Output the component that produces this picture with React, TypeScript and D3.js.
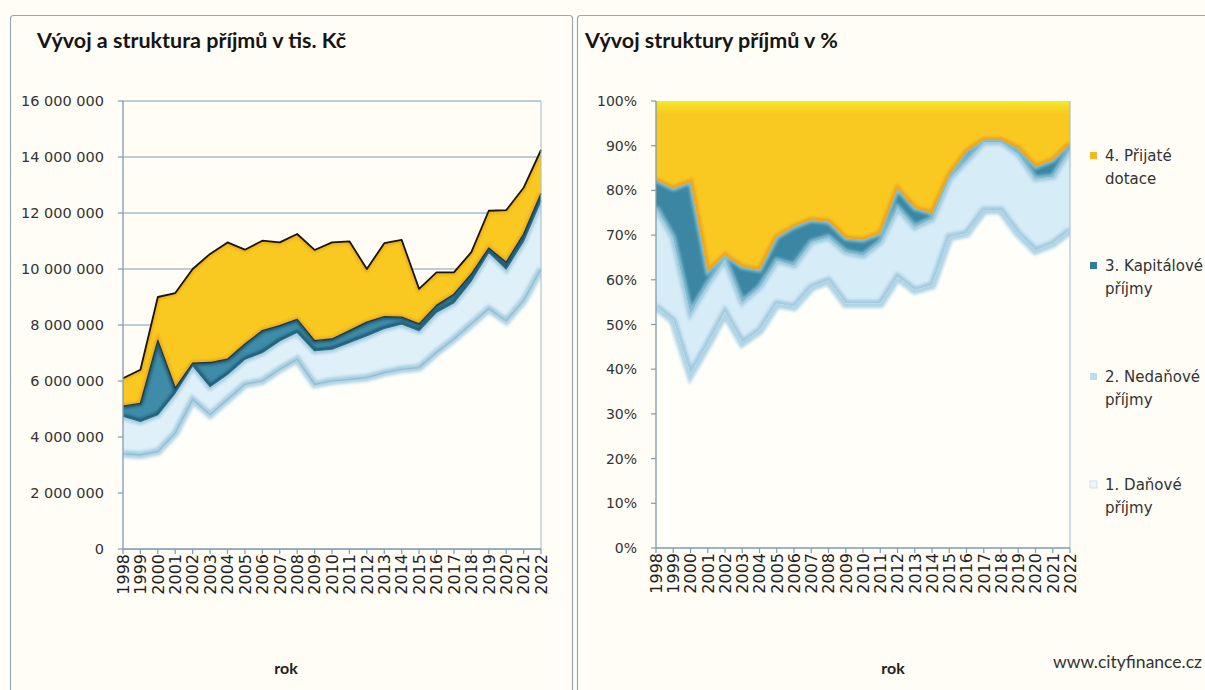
import React from 'react';
import * as d3 from 'd3';

const years = ['1998','1999','2000','2001','2002','2003','2004','2005','2006','2007','2008','2009','2010','2011','2012','2013','2014','2015','2016','2017','2018','2019','2020','2021','2022'];

// Left chart: values in tis. Kč
const danove = [3400000,3360000,3480000,4140000,5340000,4800000,5340000,5880000,6000000,6420000,6780000,5880000,6000000,6060000,6120000,6300000,6420000,6480000,7020000,7500000,8040000,8580000,8150000,8870000,10000000];
const nedanove = [1340000,1200000,1320000,1440000,1210000,1000000,900000,900000,1020000,1020000,960000,1200000,1140000,1320000,1500000,1580000,1620000,1320000,1440000,1300000,1540000,2020000,1850000,2130000,2450000];
const kapitalove = [360000,640000,2650000,170000,90000,860000,540000,540000,780000,540000,460000,360000,360000,420000,480000,420000,240000,240000,240000,300000,240000,150000,240000,250000,250000];
const dotace = [1000000,1200000,1550000,3390000,3360000,3880000,4170000,3370000,3210000,2970000,3050000,3240000,3450000,3190000,1900000,2620000,2760000,1250000,1180000,780000,780000,1330000,1860000,1650000,1550000];

// Right chart: shares in %
const danovePct = [54.0,51.0,39.0,45.7,52.8,46.0,48.7,54.7,54.0,58.4,59.9,54.7,54.7,54.7,60.7,57.7,58.8,69.6,70.4,75.6,75.6,70.4,66.6,68.1,71.1];
const nedanovePct = [22.3,18.6,13.8,13.5,12.0,9.1,9.7,9.7,9.3,10.1,9.7,11.6,10.8,13.8,15.6,14.2,14.9,13.1,16.4,15.3,15.3,17.9,16.1,15.0,18.3];
const kapitalovePct = [6.0,10.8,29.1,2.6,0.7,7.8,3.8,5.2,8.6,4.9,3.4,3.0,3.4,1.9,4.1,4.1,1.2,0.7,1.9,0.4,0.4,1.1,2.6,3.7,1.1];
const dotacePct = [17.7,19.6,18.1,38.2,34.5,37.1,37.8,30.4,28.1,26.6,27.0,30.7,31.1,29.6,19.6,24.0,25.1,16.6,11.3,8.7,8.7,10.6,14.7,13.2,9.5];

const leftTicks = [0,2000000,4000000,6000000,8000000,10000000,12000000,14000000,16000000];
const rightTicks = [0,10,20,30,40,50,60,70,80,90,100];

const seriesKeys = ['d','n','k','t'];
const legendLines = [
  ['4. Přijaté', 'dotace'],
  ['3. Kapitálové', 'příjmy'],
  ['2. Nedaňové', 'příjmy'],
  ['1. Daňové', 'příjmy'],
];
const leftTitle = 'Vývoj a struktura příjmů v tis. Kč';
const rightTitle = 'Vývoj struktury příjmů v %';
const axisTitle = 'rok';
const source = 'www.cityfinance.cz';

const BG = '#FFFDF6';
const AX = '#7E9DAE';
const TICKFONT = '"DejaVu Sans", sans-serif';
const TITLEFONT = 'Lato, "Open Sans", sans-serif';

const fmt = d3.formatLocale({decimal: ',', thousands: ' ', grouping: [3], currency: ['', '']}).format(',d');

type Style = { fill: string; edge: string; edgeW: number; line?: string; lineW?: number };

const leftStyles: Style[] = [
  { fill: '#FFFEF9', edge: '#AFD3E5', edgeW: 8, line: '#8FBCD2', lineW: 1.2 },
  { fill: '#DFF0F8', edge: '#A6CEE1', edgeW: 7, line: '#2C6C86', lineW: 1.2 },
  { fill: '#3F8CA9', edge: '#1E5870', edgeW: 5, line: '#18384A', lineW: 1.3 },
  { fill: '#F9C922', edge: '#E9A817', edgeW: 5, line: '#161616', lineW: 1.8 },
];
const rightStyles: Style[] = [
  { fill: '#FFFEF9', edge: '#AED4E6', edgeW: 9 },
  { fill: '#D6ECF7', edge: '#A2CADF', edgeW: 7 },
  { fill: '#3A86A3', edge: '#86C0D4', edgeW: 5 },
  { fill: 'url(#yellowGrad)', edge: '#EDA21A', edgeW: 6 },
];

function Chart(props: {
  prefix: string; rows: any[]; x0: number; x1: number; yTop: number; yBot: number;
  domainMax: number; ticks: number[]; tickFmt: (v: number) => string; grid: boolean;
  styles: Style[]; labelX: number; tickFont: number; xFont: number;
}) {
  const { prefix, rows, x0, x1, yTop, yBot, domainMax, ticks, tickFmt, grid, styles, labelX, tickFont, xFont } = props;
  const x = d3.scalePoint<string>().domain(years).range([x0, x1]);
  const y = d3.scaleLinear().domain([0, domainMax]).range([yBot, yTop]);
  const stacked = d3.stack<any>().keys(seriesKeys)(rows);
  const area = d3.area<any>().x((d) => x(d.data.year) as number).y0((d) => y(d[0])).y1((d) => y(d[1]));
  const topLine = d3.line<any>().x((d) => x(d.data.year) as number).y((d) => y(d[1]));
  const botLine = d3.line<any>().x((d) => x(d.data.year) as number).y((d) => y(d[0]));
  const isTopLayerFull = domainMax === 100;
  return (
    <g>
      {grid && ticks.map((t) => (
        <line key={'g' + t} x1={x0} x2={x1} y1={y(t)} y2={y(t)} stroke={AX} strokeWidth={1.2} />
      ))}
      {stacked.map((layer, i) => {
        const dd = area(layer) as string;
        const id = `${prefix}clip${i}`;
        const s = styles[i];
        const edges: string[] = [];
        if (!(isTopLayerFull && i === stacked.length - 1)) edges.push(topLine(layer) as string);
        if (i > 0) edges.push(botLine(layer) as string);
        return (
          <g key={id}>
            <clipPath id={id}><path d={dd} /></clipPath>
            <path d={dd} fill={s.fill} />
            <g clipPath={`url(#${id})`}>
              {edges.map((e, j) => (
                <path key={j} d={e} fill="none" stroke={s.edge} strokeWidth={s.edgeW} filter="url(#soft)" />
              ))}
            </g>
          </g>
        );
      })}
      {stacked.map((layer, i) => {
        const s = styles[i];
        if (!s.line) return null;
        return <path key={'l' + i} d={topLine(layer) as string} fill="none" stroke={s.line} strokeWidth={s.lineW} strokeLinejoin="round" />;
      })}
      <line x1={x1} x2={x1} y1={yTop} y2={yBot} stroke="#9DBCCB" strokeWidth={1} />
      <line x1={x0} x2={x0} y1={yTop} y2={yBot} stroke={AX} strokeWidth={1.3} />
      <line x1={x0} x2={x1} y1={yBot} y2={yBot} stroke={AX} strokeWidth={1.3} />
      {ticks.map((t) => (
        <g key={'t' + t}>
          <line x1={x0 - 5} x2={x0} y1={y(t)} y2={y(t)} stroke={AX} strokeWidth={1.2} />
          <text x={labelX} y={y(t)} dy="0.36em" textAnchor="end" fontFamily={TICKFONT} fontSize={tickFont} fill="#333">{tickFmt(t)}</text>
        </g>
      ))}
      {years.map((yr) => (
        <g key={'x' + yr}>
          <line x1={x(yr)} x2={x(yr)} y1={yBot} y2={yBot + 5} stroke={AX} strokeWidth={1.2} />
          <text transform={`translate(${x(yr)},${yBot + 5}) rotate(-90)`} dy="0.36em" textAnchor="end" fontFamily={TICKFONT} fontSize={xFont} fill="#222">{yr}</text>
        </g>
      ))}
    </g>
  );
}

export default function App() {
  const leftRows = years.map((yr, i) => ({ year: yr, d: danove[i], n: nedanove[i], k: kapitalove[i], t: dotace[i] }));
  const rightRows = years.map((yr, i) => ({ year: yr, d: danovePct[i], n: nedanovePct[i], k: kapitalovePct[i], t: dotacePct[i] }));
  const legendColors = ['#F2BA1D', '#2F7D9B', '#BDDDEB', '#EEF4F7'];
  const legendY = [156, 266, 377, 485];
  return (
    <svg width={1205} height={690} style={{ position: 'absolute', left: 0, top: 0 }}>
      <defs>
        <filter id="soft" x="-5%" y="-20%" width="110%" height="140%">
          <feGaussianBlur stdDeviation="1.8" />
        </filter>
        <linearGradient id="yellowGrad" gradientUnits="userSpaceOnUse" x1="0" y1="101" x2="0" y2="114">
          <stop offset="0" stopColor="#EEF021" />
          <stop offset="0.4" stopColor="#F6DA24" />
          <stop offset="1" stopColor="#F9C922" />
        </linearGradient>
      </defs>
      <rect x={0} y={0} width={1205} height={690} fill={BG} />
      <rect x={10.5} y={15.5} width={562} height={700} rx={3} fill={BG} stroke="#98A8B3" strokeWidth={1.2} />
      <rect x={577.5} y={15.5} width={660} height={700} rx={3} fill={BG} stroke="#98A8B3" strokeWidth={1.2} />

      <text x={37} y={48} fontFamily={TITLEFONT} fontWeight="bold" fontSize={21.5} fill="#151515">{leftTitle}</text>
      <text x={585} y={48} fontFamily={TITLEFONT} fontWeight="bold" fontSize={21.5} fill="#151515">{rightTitle}</text>

      <Chart prefix="L" rows={leftRows} x0={123} x1={541} yTop={101} yBot={549} domainMax={16000000}
        ticks={leftTicks} tickFmt={(v) => fmt(v)} grid={true} styles={leftStyles} labelX={104} tickFont={14.5} xFont={16} />
      <Chart prefix="R" rows={rightRows} x0={656} x1={1070} yTop={101} yBot={548} domainMax={100}
        ticks={rightTicks} tickFmt={(v) => v + '%'} grid={false} styles={rightStyles} labelX={637} tickFont={14} xFont={16} />

      <text x={286} y={674} textAnchor="middle" fontFamily={TITLEFONT} fontWeight="bold" fontSize={16} fill="#222">{axisTitle}</text>
      <text x={893} y={674} textAnchor="middle" fontFamily={TITLEFONT} fontWeight="bold" fontSize={16} fill="#222">{axisTitle}</text>
      <text x={1053} y={668} fontFamily={TITLEFONT} fontSize={17.5} fill="#333">{source}</text>

      {legendLines.map((lines, i) => (
        <g key={'lg' + i}>
          <rect x={1090} y={legendY[i] - 4} width={7} height={7} fill={legendColors[i]} stroke={i === 3 ? '#C9D9E2' : 'none'} strokeWidth={0.8} />
          <text x={1105} y={legendY[i]} dy="0.36em" fontFamily={TICKFONT} fontSize={15} fill="#333">{lines[0]}</text>
          <text x={1105} y={legendY[i] + 23} dy="0.36em" fontFamily={TICKFONT} fontSize={15} fill="#333">{lines[1]}</text>
        </g>
      ))}
    </svg>
  );
}
